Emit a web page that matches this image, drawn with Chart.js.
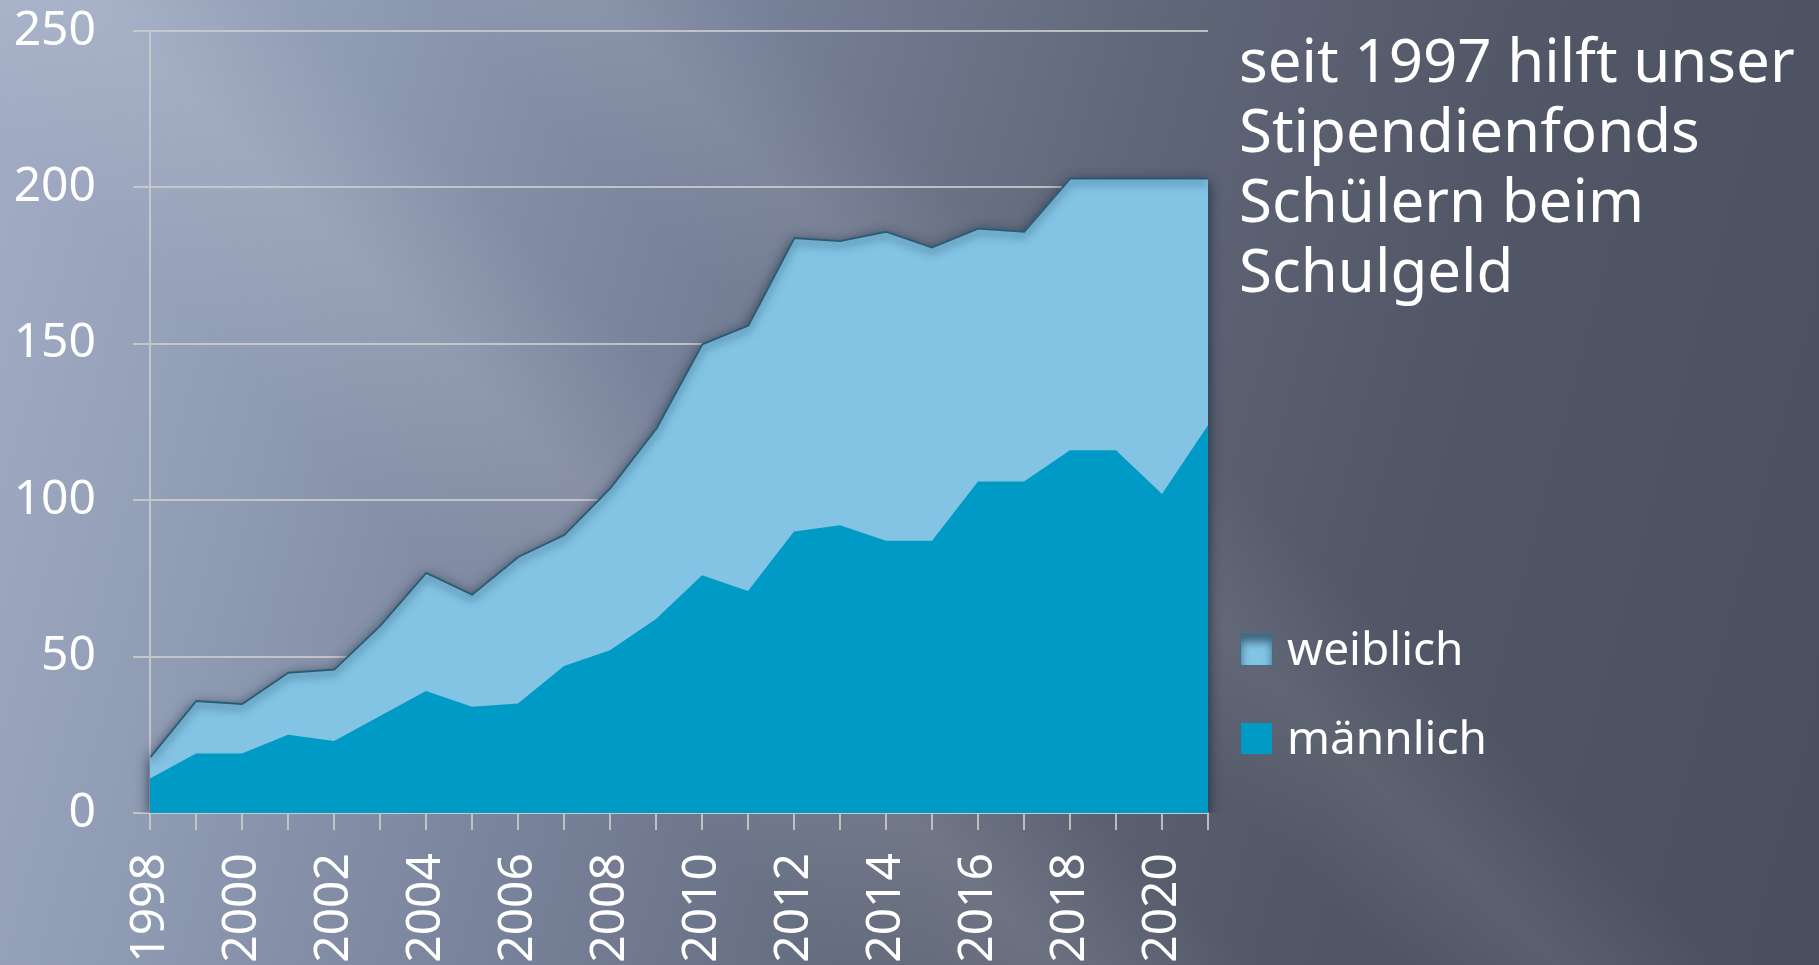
<!DOCTYPE html>
<html>
<head>
<meta charset="utf-8">
<script src="https://cdn.jsdelivr.net/npm/chart.js@4.4.1/dist/chart.umd.min.js"></script>
<style>
html, body { margin: 0; padding: 0; }
body {
    width: 1819px;
    height: 965px;
    overflow: hidden;
    position: relative;
    font-family: "Noto Sans", sans-serif;
    background:
        linear-gradient(45deg, rgba(255,255,255,0) 30%, rgba(255,255,255,0.10) 38%, rgba(255,255,255,0) 45%, rgba(255,255,255,0) 50%, rgba(255,255,255,0.07) 56%, rgba(255,255,255,0) 62%),
        linear-gradient(105deg, #a3aec6 0%, #8f9bb3 18%, #78829a 36%, #606778 56%, #525767 74%, #4a4f5e 100%);
}
#c { position: absolute; left: 0; top: 0; }
.note {
    position: absolute;
    left: 1239px;
    top: 24px;
    color: #fff;
    font-size: 60px;
    line-height: 70px;
}
.legend-item {
    position: absolute;
    left: 1241px;
    height: 46px;
    color: #fff;
    font-size: 46px;
    line-height: 46px;
}
.legend-item span.box {
    position: absolute;
    left: 0;
    width: 31px;
    height: 31px;
}
.legend-item span.txt {
    position: absolute;
    left: 46px;
    top: 0;
    white-space: nowrap;
}
</style>
</head>
<body>
<canvas id="c" width="1819" height="965"></canvas>
<div class="note">seit 1997 hilft unser<br>Stipendienfonds<br>Schülern beim<br>Schulgeld</div>
<div id="legend"></div>
<script>
const years = ["1998", "1999", "2000", "2001", "2002", "2003", "2004", "2005", "2006", "2007", "2008", "2009",
               "2010", "2011", "2012", "2013", "2014", "2015", "2016", "2017", "2018", "2019", "2020", "2021"];
const maleCounts = [11, 19, 19, 25, 23, 31, 39, 34, 35, 47, 52, 62, 76, 71, 90, 92, 87, 87, 106, 106, 116, 116, 102, 124];
const femaleCounts = [7, 17, 16, 20, 23, 29, 38, 36, 47, 42, 52, 61, 74, 85, 94, 91, 99, 94, 81, 80, 87, 87, 101, 79];
const seriesNames = ["männlich", "weiblich"];
const yTicks = [0, 50, 100, 150, 200, 250];

const maleColor = "#009ac6";
const femaleColor = "#83c4e4";
const gridColor = "rgba(205,205,205,0.85)";

// path of the upper (stacked) area, taken from the chart's own points
function topAreaPath(chart, ctx) {
    const pts = chart.getDatasetMeta(1).data;
    const bottom = chart.scales.y.getPixelForValue(0);
    ctx.beginPath();
    ctx.moveTo(pts[0].x, bottom);
    pts.forEach(p => ctx.lineTo(p.x, p.y));
    ctx.lineTo(pts[pts.length - 1].x, bottom);
    ctx.closePath();
}

// drop shadow round the area and a dark inner band under its top edge
const areaShadow = {
    id: "areaShadow",
    beforeDatasetsDraw(chart) {
        const ctx = chart.ctx;
        const bottom = chart.scales.y.getPixelForValue(0);
        ctx.save();
        ctx.beginPath();
        ctx.rect(0, 0, chart.width, bottom);
        ctx.clip();
        ctx.shadowColor = "rgba(15,35,55,0.85)";
        ctx.shadowBlur = 14;
        ctx.shadowOffsetY = 4;
        ctx.fillStyle = femaleColor;
        topAreaPath(chart, ctx);
        ctx.fill();
        ctx.restore();
    },
    afterDatasetsDraw(chart) {
        const ctx = chart.ctx;
        const pts = chart.getDatasetMeta(1).data;
        ctx.save();
        topAreaPath(chart, ctx);
        ctx.clip();
        ctx.shadowColor = "rgba(30,70,95,0.8)";
        ctx.shadowBlur = 10;
        ctx.shadowOffsetY = 4;
        ctx.strokeStyle = "rgba(40,85,110,0.95)";
        ctx.lineWidth = 3;
        ctx.beginPath();
        pts.forEach((p, i) => i === 0 ? ctx.moveTo(p.x, p.y) : ctx.lineTo(p.x, p.y));
        ctx.stroke();
        ctx.restore();
    }
};

const tickFont = { family: "Noto Sans", size: 48 };

const chart = new Chart(document.getElementById("c"), {
    type: "line",
    data: {
        labels: years,
        datasets: [
            {
                label: seriesNames[0],
                data: maleCounts,
                backgroundColor: maleColor,
                borderWidth: 0,
                fill: "origin"
            },
            {
                label: seriesNames[1],
                data: femaleCounts,
                backgroundColor: femaleColor,
                borderColor: "rgba(45,95,120,0.9)",
                borderWidth: 1,
                fill: "-1"
            }
        ]
    },
    options: {
        responsive: false,
        animation: false,
        layout: { padding: { top: 31, right: 611, left: 0, bottom: 0 } },
        elements: { point: { radius: 0 }, line: { tension: 0 } },
        plugins: {
            legend: { display: false },
            tooltip: { enabled: false }
        },
        scales: {
            x: {
                offset: false,
                grid: { drawOnChartArea: false, drawTicks: true, tickLength: 17, color: gridColor, lineWidth: 2 },
                border: { display: true, color: gridColor, width: 2 },
                ticks: {
                    autoSkip: false,
                    minRotation: 90,
                    maxRotation: 90,
                    padding: 23,
                    color: "#fff",
                    font: tickFont,
                    callback: function (v, i) {
                        return i % 2 === 0 ? this.getLabelForValue(v) : "";
                    }
                },
                afterFit: (s) => {
                    s.height = 152;
                    s.paddingLeft = 0;
                    s.paddingRight = 0;
                }
            },
            y: {
                stacked: true,
                min: yTicks[0],
                max: yTicks[yTicks.length - 1],
                grid: { color: gridColor, lineWidth: 2, tickLength: 17 },
                border: { display: true, color: gridColor, width: 2 },
                ticks: { stepSize: 50, padding: 37, color: "#fff", font: tickFont },
                afterFit: (s) => {
                    s.width = 150;
                    s.paddingTop = 0;
                    s.paddingBottom = 0;
                }
            }
        }
    },
    plugins: [areaShadow]
});

// legend on the right, top entry is the upper series
const legend = document.getElementById("legend");
const legendTops = [624, 713];
[1, 0].forEach((idx, row) => {
    const ds = chart.data.datasets[idx];
    const item = document.createElement("div");
    item.className = "legend-item";
    item.style.top = legendTops[row] + "px";
    const box = document.createElement("span");
    box.className = "box";
    box.style.top = "10px";
    box.style.background = ds.backgroundColor;
    if (idx === 1) {
        box.style.boxShadow = "inset 0 8px 8px rgba(40,70,90,0.75)";
        box.style.outline = "1px solid rgba(60,110,140,0.9)";
    }
    const txt = document.createElement("span");
    txt.className = "txt";
    txt.textContent = ds.label;
    item.appendChild(box);
    item.appendChild(txt);
    legend.appendChild(item);
});
</script>
</body>
</html>
